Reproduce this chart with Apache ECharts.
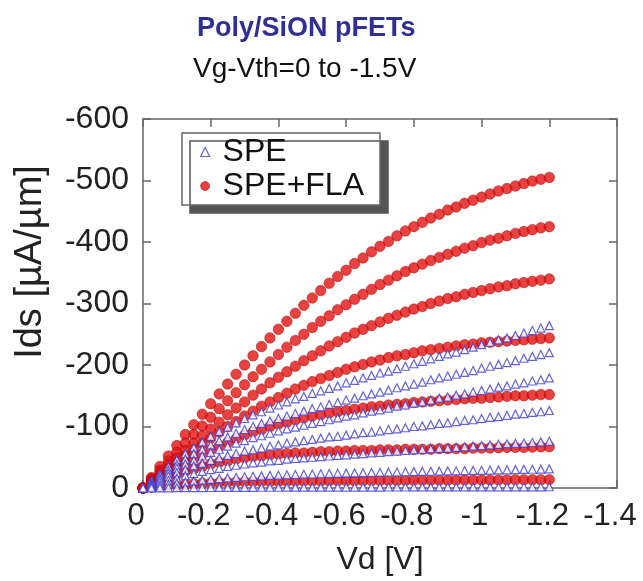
<!DOCTYPE html>
<html>
<head>
<meta charset="utf-8">
<script src="https://cdn.jsdelivr.net/npm/echarts@6/dist/echarts.min.js"></script>
<style>html,body{margin:0;padding:0;background:#fff}#c{width:643px;height:581px}</style>
</head>
<body>
<div id="c"></div>
<script>
// Drain voltage Vd [V]
const VD = [0,-0.025,-0.05,-0.075,-0.1,-0.125,-0.15,-0.175,-0.2,-0.225,-0.25,-0.275,-0.3,-0.325,-0.35,-0.375,-0.4,-0.425,-0.45,-0.475,-0.5,-0.525,-0.55,-0.575,-0.6,-0.625,-0.65,-0.675,-0.7,-0.725,-0.75,-0.775,-0.8,-0.825,-0.85,-0.875,-0.9,-0.925,-0.95,-0.975,-1.0,-1.025,-1.05,-1.075,-1.1,-1.125,-1.15,-1.175,-1.2];
// |Ids| [uA/um], SPE+FLA (red), Vg-Vth = -1.5 ... 0 V
const FLA_1 = [0,17,35,52,69,87,103,120,137,153,169,185,200,215,230,244,258,271,284,297,309,321,333,344,354,365,374,384,393,401,410,418,425,432,439,445,452,457,463,468,473,478,483,487,491,495,499,502,505];
const FLA_2 = [0,15,29,44,58,73,87,101,115,129,142,155,168,181,193,205,217,229,240,250,261,271,280,290,298,307,315,323,331,338,345,352,358,364,370,375,380,385,390,394,399,403,406,410,414,417,420,423,425];
const FLA_3 = [0,12,25,37,49,61,73,85,96,107,119,130,140,151,161,171,180,189,198,207,215,223,231,238,245,252,258,264,270,276,281,286,291,295,300,304,308,311,315,318,321,324,327,329,332,334,336,338,340];
const FLA_4 = [0,11,21,31,42,52,62,72,81,91,100,108,117,125,133,140,147,154,161,167,173,178,183,188,193,197,201,205,208,212,215,217,220,223,225,227,229,231,233,234,236,237,238,239,240,241,242,243,244];
const FLA_5 = [0,8,17,25,33,40,48,55,62,68,74,80,86,91,95,100,104,107,111,114,117,119,122,124,126,128,130,132,133,135,136,137,139,140,141,142,143,144,145,146,146,147,148,149,150,150,151,152,152];
const FLA_6 = [0,6,11,17,22,27,31,35,39,42,44,47,49,51,52,54,55,56,57,57,58,59,59,60,60,61,61,61,62,62,62,63,63,63,63,64,64,64,64,65,65,65,65.5,66,66,66,66.5,67,67];
const FLA_7 = [0,1.3,2.6,3.8,4.9,5.9,6.8,7.6,8.2,8.8,9.2,9.6,9.9,10.2,10.5,10.7,10.8,11.0,11.1,11.3,11.4,11.5,11.6,11.7,11.8,11.8,11.9,12.0,12.1,12.2,12.2,12.3,12.4,12.5,12.6,12.6,12.7,12.8,12.9,12.9,13.0,13.1,13.2,13.2,13.3,13.4,13.5,13.5,13.6];
// |Ids| [uA/um], SPE (blue)
const SPE_1 = [0,12,23,35,46,56,66,75,84,92,99,106,113,119,124,130,135,140,145,149,154,158,162,166,171,175,179,183,187,190,194,198,202,206,210,214,218,221,225,229,233,237,241,244,248,252,256,260,264];
const SPE_2 = [0,10,20,29,38,47,56,63,70,77,83,89,95,100,105,109,113,117,121,125,129,132,136,139,143,146,150,153,156,159,163,166,169,172,176,179,182,185,188,191,195,198,201,204,207,211,214,217,220];
const SPE_3 = [0,8,16,24,32,39,45,52,58,63,68,73,77,82,85,89,93,96,99,102,105,108,111,114,117,119,122,125,127,130,133,135,138,140,143,146,148,151,153,156,158.5,161,164,166,169,171,174,176,179];
const SPE_4 = [0,6,13,19,25,30,36,40,45,49,53,56,60,62,65,68,70,73,75,77,79,81,83,84,86,88,90,91,93,95,96,98,100,101,103,105,106,108,110,111,113,115,116,118,120,121,123,124,126];
const SPE_5 = [0,4,8.5,12.5,16,20,23.5,27,30,32,35,37,39,41,42,44,45,47,48,49,50,51,52,53,54,55,56,57,58,59,60,61,62,63,64,64.5,65,66,67,68,69,70,71,72,72.5,73,74,75,76];
const SPE_6 = [0,2.1,4.1,6.1,7.9,9.7,11.3,12.8,14.1,15.3,16.4,17.4,18.3,19.0,19.7,20.4,20.9,21.4,21.9,22.4,22.8,23.2,23.5,23.9,24.2,24.5,24.9,25.2,25.5,25.7,26.0,26.3,26.6,26.9,27.2,27.4,27.7,28.0,28.3,28.6,28.8,29.1,29.4,29.6,29.9,30.2,30.5,30.7,31.0];
const SPE_7 = [0,0.12,0.24,0.35,0.46,0.56,0.66,0.75,0.83,0.90,0.97,1.03,1.08,1.13,1.18,1.22,1.25,1.29,1.32,1.35,1.38,1.41,1.43,1.46,1.48,1.51,1.53,1.55,1.58,1.60,1.62,1.64,1.67,1.69,1.71,1.73,1.75,1.77,1.79,1.81,1.83,1.85,1.87,1.90,1.92,1.94,1.96,1.98,2.0];

const FLA = [FLA_1,FLA_2,FLA_3,FLA_4,FLA_5,FLA_6,FLA_7];
const SPE = [SPE_1,SPE_2,SPE_3,SPE_4,SPE_5,SPE_6,SPE_7];

const FONT = '"Liberation Sans", Arial, sans-serif';
const RED = '#e31010', RED_EDGE = '#a00000', BLUE = '#3c3cd2';

// currents are negative (p-FET): plot -|Ids|
function pts(arr){ return VD.map((v,i)=>[v, -arr[i]]); }

const series = [];
FLA.forEach(a=>series.push({
  name:'SPE+FLA', type:'scatter', data:pts(a), symbol:'circle', symbolSize:10.5,
  itemStyle:{color:RED, borderColor:RED_EDGE, borderWidth:0.6}, z:2
}));
SPE.forEach(a=>series.push({
  name:'SPE', type:'scatter', data:pts(a), symbol:'triangle', symbolSize:8,
  itemStyle:{color:'#ffffff', borderColor:BLUE, borderWidth:1.2}, z:3
}));

function axLine(){ return {show:true, onZero:false, lineStyle:{color:'#666', width:1.5}}; }
function tick(){ return {show:true, inside:true, length:8, lineStyle:{color:'#666', width:1.5}}; }
const xFmt = v => { const s = +(+v).toFixed(1); return s===0 ? '0' : String(s); };

const chart = echarts.init(document.getElementById('c'), null, {renderer:'canvas'});
chart.setOption({
  animation:false,
  backgroundColor:'#fff',
  title:[
    {text:'Poly/SiON pFETs', left:192, top:10, textStyle:{fontFamily:FONT, fontSize:27, fontWeight:'bold', color:'#2e3192'}},
    {text:'Vg-Vth=0 to -1.5V', left:188, top:50, textStyle:{fontFamily:FONT, fontSize:28, fontWeight:'normal', color:'#111'}}
  ],
  grid:{left:143, right:26, top:119, bottom:88},
  xAxis:[
    {type:'value', position:'bottom', min:-1.4, max:0, interval:0.2, inverse:true,
     axisLine:axLine(), axisTick:tick(), splitLine:{show:false},
     axisLabel:{fontFamily:FONT, fontSize:31, color:'#222', margin:13, padding:[0,14,0,0], formatter:xFmt, showMinLabel:true, showMaxLabel:true},
     name:'Vd [V]', nameLocation:'middle', nameGap:56, nameTextStyle:{fontFamily:FONT, fontSize:32, color:'#222'}},
    {type:'value', position:'top', min:-1.4, max:0, interval:0.2, inverse:true,
     axisLine:axLine(), axisTick:tick(), splitLine:{show:false}, axisLabel:{show:false}}
  ],
  yAxis:[
    {type:'value', position:'left', min:-600, max:0, interval:100, inverse:true,
     axisLine:axLine(), axisTick:tick(), splitLine:{show:false},
     axisLabel:{fontFamily:FONT, fontSize:32, color:'#222', margin:14}},
    {type:'value', position:'right', min:-600, max:0, interval:100, inverse:true,
     axisLine:axLine(), axisTick:tick(), splitLine:{show:false}, axisLabel:{show:false}}
  ],
  legend:{
    orient:'vertical', left:182, top:133,
    data:[
      {name:'SPE', icon:'triangle', itemStyle:{color:'#fff', borderColor:BLUE, borderWidth:1.2}},
      {name:'SPE+FLA', icon:'circle', itemStyle:{color:RED, borderColor:RED_EDGE, borderWidth:0.6}}
    ],
    itemWidth:9, itemHeight:9, itemGap:2,
    padding:[3,16,3,18],
    backgroundColor:'#fff', borderColor:'#666', borderWidth:1.5,
    shadowColor:'#555', shadowOffsetX:8, shadowOffsetY:8, shadowBlur:0,
    textStyle:{fontFamily:FONT, fontSize:32, color:'#111', padding:[0,0,0,8]}
  },
  graphic:[
    {type:'text', x:31, y:262, rotation:Math.PI/2,
     style:{text:'Ids [\u00b5A/\u00b5m]', fontFamily:FONT, fontSize:38, fill:'#222', textAlign:'center', textVerticalAlign:'middle'}}
  ],
  series:series
});
</script>
</body>
</html>
